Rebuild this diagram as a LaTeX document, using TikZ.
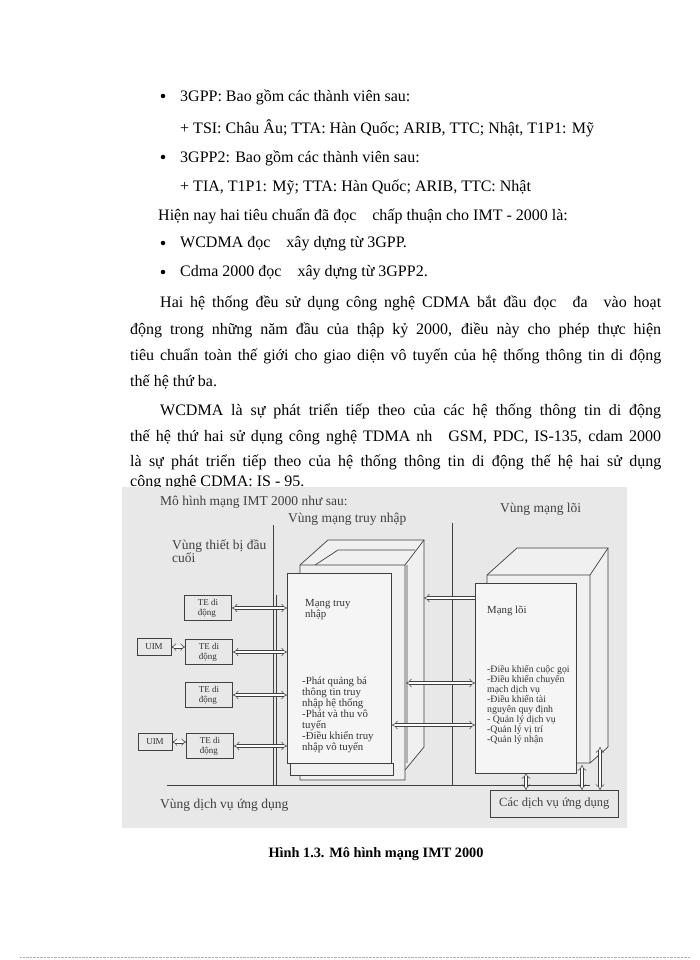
\documentclass[tikz,border=0pt]{standalone}
\usepackage{fontspec}
\setmainfont{Liberation Serif}
\usetikzlibrary{arrows.meta}
\begin{document}
\begin{tikzpicture}[x=1pt,y=-1pt,
  body/.style={anchor=west,inner sep=0pt,font=\fontsize{16}{18}\selectfont},
  fig/.style={draw=black!75,line width=0.7pt},
  small/.style={anchor=north west,inner sep=0pt,align=left,font=\fontsize{10.8}{11}\selectfont,text=black!80},
  lab/.style={anchor=west,inner sep=0pt,font=\fontsize{13.5}{13}\selectfont,text=black!75},
  dbl/.style={draw=black!75,line width=0.5pt,double=white,double distance=2.5pt,{Implies}-{Implies}},
  sgl/.style={draw=black!75,line width=0.5pt,double=white,double distance=2.5pt,-{Implies}},
  bul/.style={circle,fill=black,inner sep=0pt,minimum size=4.5pt}]
\path[use as bounding box] (0,0) rectangle (700,960);
% ---- text ----
\node[bul] (b1) at (163,96) {};
\node[body] (t1) at (180,97) {3GPP: Bao gồm các thành viên sau:};
\node[body] (t2) at (180,128) {+ TSI: Châu Âu; TTA: Hàn Quốc; ARIB, TTC; Nhật, T1P1: Mỹ};
\node[bul] (b2) at (163,157) {};
\node[body] (t3) at (180,158) {3GPP2: Bao gồm các thành viên sau:};
\node[body] (t4) at (180,187) {+ TIA, T1P1: Mỹ; TTA: Hàn Quốc; ARIB, TTC: Nhật};
\node[body] (t5) at (158,216) {Hiện nay hai tiêu chuẩn đã đọc\quad chấp thuận cho IMT - 2000 là:};
\node[bul] (b3) at (163,243) {};
\node[body] (t6) at (180,244) {WCDMA đọc\quad xây dựng từ 3GPP.};
\node[bul] (b4) at (163,272) {};
\node[body] (t7) at (180,273) {Cdma 2000 đọc\quad xây dựng từ 3GPP2.};
\node[body] (p1) at (160,303) {\makebox[501pt][s]{Hai hệ thống đều sử dụng công nghệ CDMA bắt đầu đọc\quad đa\quad vào hoạt}};
\node[body] (p2) at (130,330) {\makebox[531pt][s]{động trong những năm đầu của thập kỷ 2000, điều này cho phép thực hiện}};
\node[body] (p3) at (130,356) {\makebox[531pt][s]{tiêu chuẩn toàn thế giới cho giao diện vô tuyến của hệ thống thông tin di động}};
\node[body] (p4) at (130,382) {thế hệ thứ ba.};
\node[body] (q1) at (160,411) {\makebox[501pt][s]{WCDMA là sự phát triển tiếp theo của các hệ thống thông tin di động}};
\node[body] (q2) at (130,437) {\makebox[531pt][s]{thế hệ thứ hai sử dụng công nghệ TDMA nh\quad GSM, PDC, IS-135, cdam 2000}};
\node[body] (q3) at (130,462) {\makebox[531pt][s]{là sự phát triển tiếp theo của hệ thống thông tin di động thế hệ hai sử dụng}};
\node[body] (q4) at (130,483) {công nghệ CDMA: IS - 95.};
% ---- figure ----
\fill[black!9] (122,487) rectangle (627,828);
\node[lab] (ft) at (160,502) {Mô hình mạng IMT 2000 như sau:};
\node[lab] (za) at (288,519) {Vùng mạng truy nhập};
\node[lab] (zc) at (500,509) {Vùng mạng lõi};
\node[lab,align=left] (zt) at (172,551) {Vùng thiết bị đầu\\cuối};
\node[lab] (zs) at (160,805) {Vùng dịch vụ ứng dụng};
\draw[fig] (273,525) -- (273,785) (276,595) -- (276,785) (452,523) -- (452,785) (167,785) -- (590,785);
% access network block
\draw[fig,fill=black!6] (300,565) -- (328,540) -- (424,540) -- (424,747) -- (405,770) -- (405,780) -- (300,780) -- cycle;
\draw[fig] (300,565) -- (405,565) -- (424,540) (405,565) -- (405,770);
\draw[fig] (315,565) -- (338,550) -- (415,550) (407,565) -- (407,763);
\draw[fig,fill=black!6] (290,763) rectangle (393,775);
\node[fig,fill=black!4,minimum width=104pt,minimum height=190pt,anchor=north west,inner sep=0pt] (an) at (287,573) {};
\node[small] (ant) at (305,599) {Mạng truy\\nhập};
\node[small] (anl) at (302,677) {-Phát quảng bá\\thông tin truy\\nhập hệ thống\\-Phát và thu vô\\tuyến\\-Điều khiển truy\\nhập vô tuyến};
% core network block
\draw[fig,fill=black!6] (487,575) -- (517,548) -- (608,548) -- (608,747) -- (590,763) -- (487,763) -- cycle;
\draw[fig] (487,575) -- (590,575) -- (608,548) (590,575) -- (590,763);
\node[fig,fill=black!4,minimum width=101pt,minimum height=190pt,anchor=north west,inner sep=0pt] (cn) at (475,583) {};
\node[small] (cnt) at (487,606) {Mạng lõi};
\node[small,font=\fontsize{9.8}{10}\selectfont] (cnl) at (487,665) {-Điều khiển cuộc gọi\\-Điều khiển chuyển\\mạch dịch vụ\\-Điều khiển tài\\nguyên quy định\\- Quản lý dịch vụ\\-Quản lý vị trí\\-Quản lý nhận};
% service box
\node[fig,minimum width=128pt,minimum height=27pt,anchor=north west,inner sep=0pt,font=\fontsize{12.5}{13}\selectfont,text=black!75] (sv) at (490,790) {Các dịch vụ ứng dụng};
% terminals
\tikzset{te/.style={fig,minimum width=47pt,minimum height=25pt,inner sep=0pt,align=left,font=\fontsize{9}{10}\selectfont,text=black!80},
 uim/.style={fig,minimum width=34pt,minimum height=17pt,inner sep=0pt,font=\fontsize{9}{10}\selectfont,text=black!80}}
\node[te] (te1) at (208,608) {TE di\\động};
\node[te] (te2) at (209,652) {TE di\\động};
\node[te] (te3) at (209,695) {TE di\\động};
\node[te] (te4) at (210,746) {TE di\\động};
\node[uim] (u1) at (154,647) {UIM};
\node[uim] (u2) at (155,742) {UIM};
\draw[dbl] (te1.east) -- (an.west |- te1.east);
\draw[dbl] (te2.east) -- (an.west |- te2.east);
\draw[dbl] (te3.east) -- (an.west |- te3.east);
\draw[dbl] (te4.east) -- (an.west |- te4.east);
\draw[dbl,double distance=2pt] (u1.east) -- (te2.west |- u1.east);
\draw[dbl,double distance=2pt] (u2.east) -- (te4.west |- u2.east);
% inter-network arrows
\coordinate (ab1) at (424,598);
\coordinate (ab2) at (406,683);
\coordinate (ab3) at (392,725);
\draw[sgl] (cn.west |- ab1) -- (ab1);
\draw[dbl] (ab2) -- (cn.west |- ab2);
\draw[dbl] (ab3) -- (cn.west |- ab3);
% vertical arrows to services
\coordinate (v1) at (526,773);
\coordinate (v2) at (582,765);
\coordinate (v3) at (600,747);
\draw[dbl] (v1) -- (v1 |- sv.north);
\draw[dbl] (v2) -- (v2 |- sv.north);
\draw[dbl] (v3) -- (v3 |- sv.north);
% caption
\node[inner sep=0pt,font=\bfseries\fontsize{14.3}{16}\selectfont] (cap) at (376,854) {Hình 1.3. Mô hình mạng IMT 2000};
\draw[black!30,densely dotted] (20,957) -- (690,957);
\end{tikzpicture}
\end{document}
